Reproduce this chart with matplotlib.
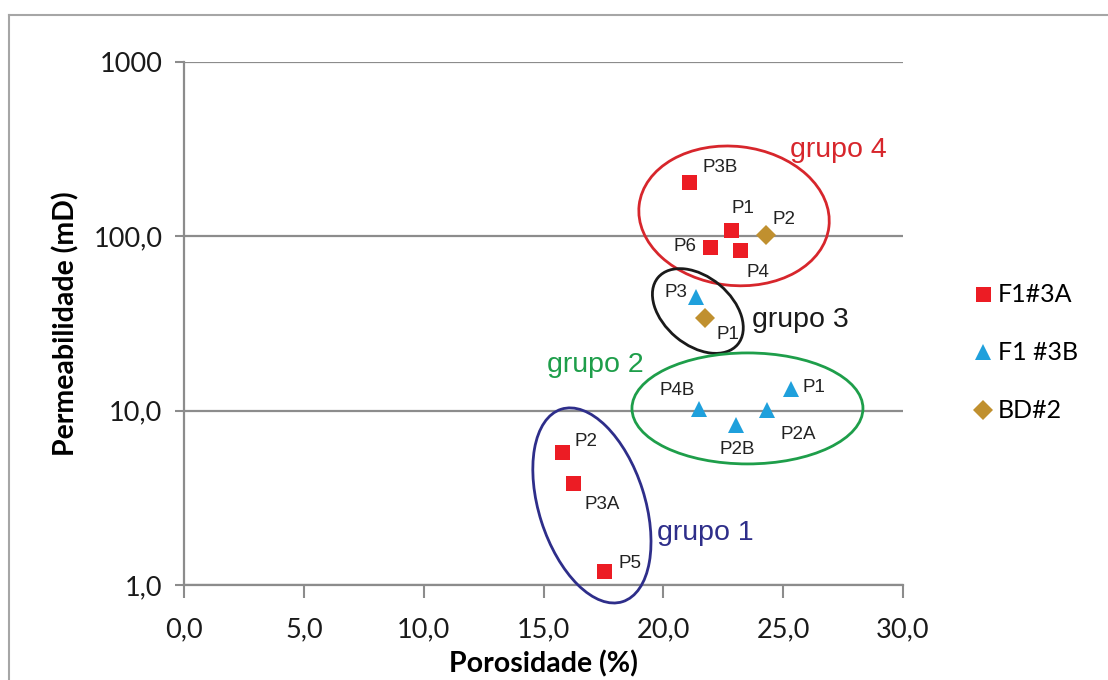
import matplotlib.pyplot as plt
import matplotlib.transforms as mtransforms
from matplotlib.patches import Ellipse
from matplotlib.lines import Line2D

plt.rcParams['font.family'] = ['Lato', 'DejaVu Sans']

############################# Data #############################

# F1#3A (red squares)
a_labels = ['P3B', 'P1', 'P6', 'P4', 'P2', 'P3A', 'P5']
a_poro = [21.07, 22.82, 21.94, 23.20, 15.77, 16.23, 17.52]
a_perm = [205.0, 109.0, 87.0, 83.6, 5.8, 3.85, 1.20]

# F1 #3B (blue triangles)
b_labels = ['P3', 'P4B', 'P2B', 'P2A', 'P1']
b_poro = [21.36, 21.49, 23.03, 24.32, 25.32]
b_perm = [44.9, 10.2, 8.28, 10.1, 13.3]

# BD#2 (gold diamonds)
c_labels = ['P2', 'P1']
c_poro = [24.28, 21.74]
c_perm = [101.9, 34.0]

x_ticks = [0, 5, 10, 15, 20, 25, 30]
x_tick_labels = ['0,0', '5,0', '10,0', '15,0', '20,0', '25,0', '30,0']
y_ticks = [1, 10, 100, 1000]
y_tick_labels = ['1,0', '10,0', '100,0', '1000']

# label offsets in pixels (dx, dy, ha)
a_offsets = [(14, 14, 'left'), (1, 21, 'left'), (-13, 0, 'right'), (6, -23, 'left'),
             (13, 10, 'left'), (12, -22, 'left'), (15, 8, 'left')]
b_offsets = [(-9, 4, 'right'), (-4, 19, 'right'), (1, -25, 'center'),
             (14, -25, 'left'), (12, 2, 'left')]
c_offsets = [(7, 15, 'left'), (11, -16, 'left')]

# groups: name, centre (poro, perm), width px, height px, angle, colour, text pos px
groups = [
    ('grupo 4', (22.95, 131.0), 191, 139, -6.5, '#D7262C', (790, 150)),
    ('grupo 3', (21.44, 37.3), 104, 68, -40, '#1A1A1A', (752, 320)),
    ('grupo 2', (23.51, 10.3), 231, 111, 0, '#1E9E4A', (547, 365)),
    ('grupo 1', (17.02, 2.86), 106, 202, 17.7, '#2E2E8A', (657, 533)),
]

c_red = '#EC1C24'
c_blue = '#1FA0DC'
c_gold = '#C0902F'
c_grid = '#8C8C8C'

############################# Figure #############################

W, H = 1108, 680
fig = plt.figure(figsize=(W / 100, H / 100), dpi=100)
ax = fig.add_axes([184 / W, 95 / H, 719 / W, 523 / H])

ax.set_yscale('log')
ax.set_xlim(0, 30)
ax.set_ylim(1, 1000)

ax.plot(a_poro, a_perm, 's', color=c_red, markersize=10.8, markeredgewidth=0, label='F1#3A', zorder=4)
ax.plot(b_poro, b_perm, '^', color=c_blue, markersize=11, markeredgewidth=0, label='F1 #3B', zorder=4)
ax.plot(c_poro, c_perm, 'D', color=c_gold, markersize=10.5, markeredgewidth=0, label='BD#2', zorder=4)

# point labels
for labels, xs, ys, offs in [(a_labels, a_poro, a_perm, a_offsets),
                             (b_labels, b_poro, b_perm, b_offsets),
                             (c_labels, c_poro, c_perm, c_offsets)]:
    for lab, x, y, (dx, dy, ha) in zip(labels, xs, ys, offs):
        ax.annotate(lab, (x, y), xytext=(dx * 0.72, dy * 0.72), textcoords='offset points',
                    ha=ha, va='center', fontsize=13.5, color='#222222',
                    family=['Liberation Sans', 'DejaVu Sans'], zorder=5)

# group ellipses and names
for name, (gx, gy), gw, gh, ang, col, (tx, ty) in groups:
    trans = fig.dpi_scale_trans + mtransforms.ScaledTranslation(gx, gy, ax.transData)
    ax.add_patch(Ellipse((0, 0), gw / 100, gh / 100, angle=ang, transform=trans,
                         fill=False, edgecolor=col, linewidth=2, zorder=3, clip_on=False))
    fig.text(tx / W, 1 - ty / H, name, color=col, fontsize=20.5, ha='left', va='center',
             family=['Liberation Sans', 'DejaVu Sans'])

############################# Axes style #############################

ax.set_xticks(x_ticks)
ax.set_xticklabels(x_tick_labels)
ax.set_yticks(y_ticks)
ax.set_yticklabels(y_tick_labels)
ax.minorticks_off()
ax.tick_params(axis='both', labelsize=19.5, color=c_grid, width=1.5, labelcolor='#1A1A1A')
ax.tick_params(axis='x', length=9, pad=14)
ax.tick_params(axis='y', length=6.5, pad=9)

ax.grid(axis='y', color=c_grid, linewidth=1.6)
ax.set_axisbelow(True)
for side in ['top', 'right']:
    ax.spines[side].set_visible(False)
for side in ['left', 'bottom']:
    ax.spines[side].set_color(c_grid)
    ax.spines[side].set_linewidth(1.6)

ax.set_xlabel('Porosidade (%)', fontsize=20.5, fontweight='bold', labelpad=6)
ax.set_ylabel('Permeabilidade (mD)', fontsize=20.5, fontweight='bold', labelpad=10)

ax.legend(loc='center left', bbox_to_anchor=(1.08, 0.444), frameon=False, fontsize=18,
          handlelength=0.8, handletextpad=0.2, labelspacing=1.4, borderpad=0)

# outer frame
fig.add_artist(Line2D([9 / W, 1], [1 - 15 / H, 1 - 15 / H], color='#A6A6A6', linewidth=1.5))
fig.add_artist(Line2D([9 / W, 9 / W], [0, 1 - 15 / H], color='#A6A6A6', linewidth=1.5))

fig.savefig('out.png', dpi=100)
